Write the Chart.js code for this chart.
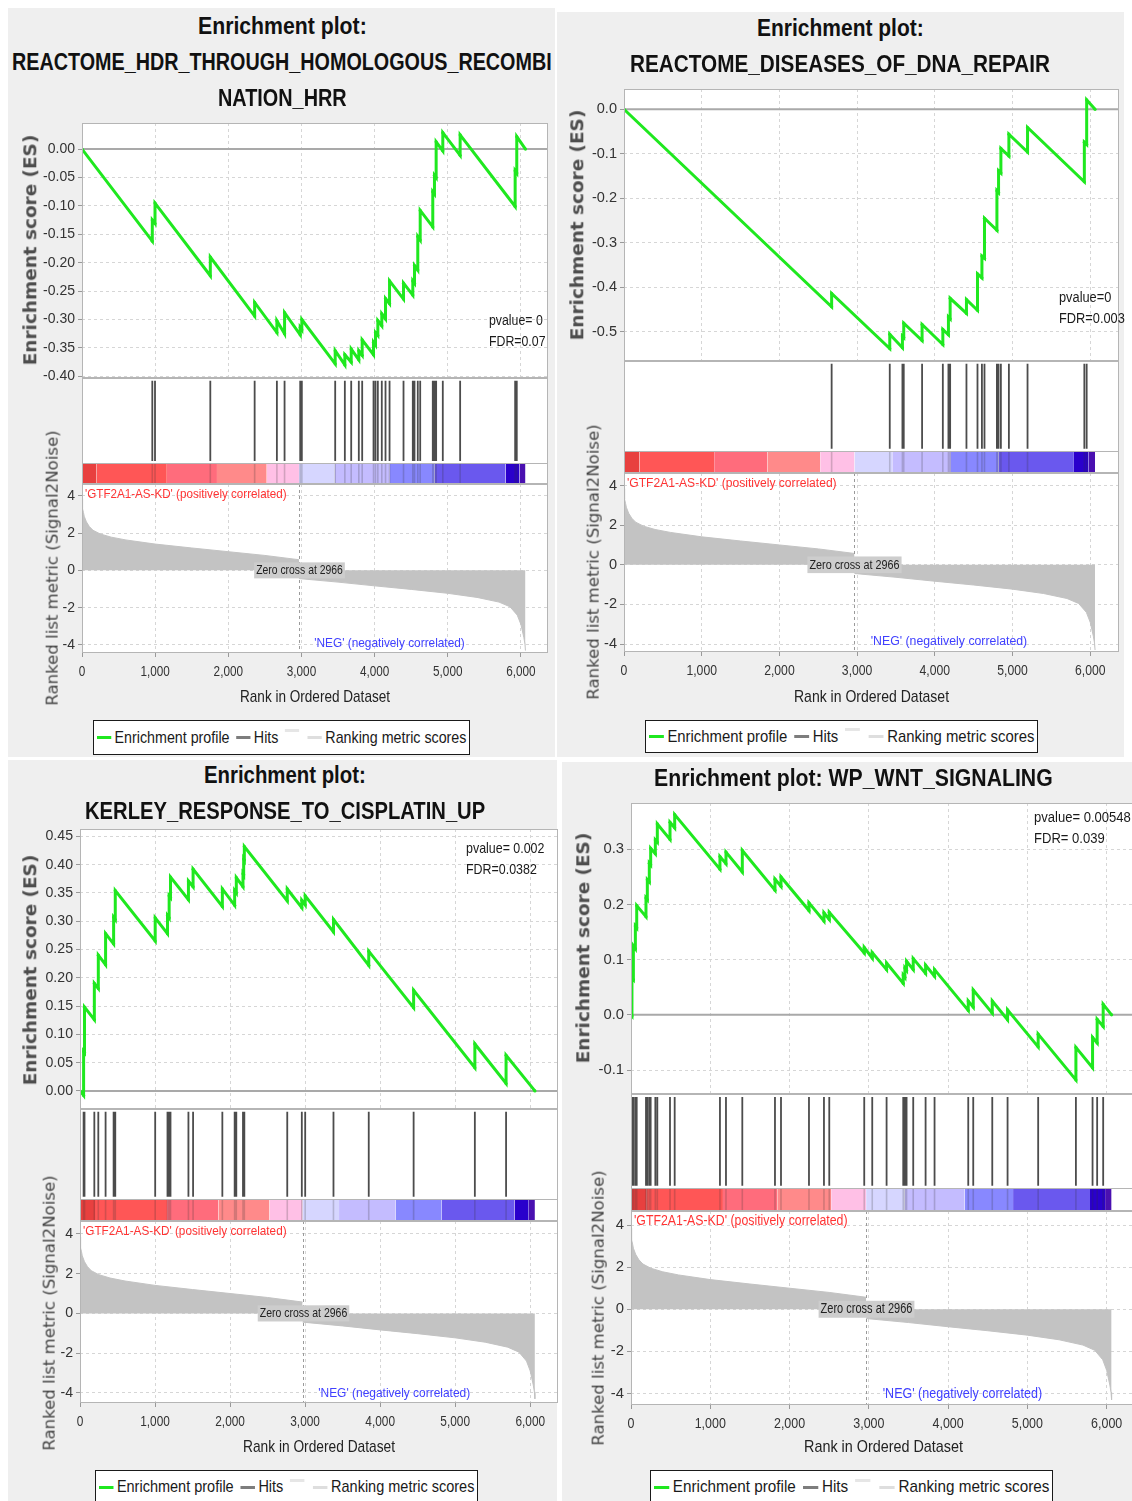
<!DOCTYPE html>
<html>
<head>
<meta charset="utf-8">
<script src="https://cdn.jsdelivr.net/npm/chart.js@4.4.1/dist/chart.umd.min.js"></script>
<style>
  html, body { margin: 0; padding: 0; background: #fff; overflow: hidden; }
  #page { position: relative; width: 1132px; height: 1501px; overflow: hidden; background: #fff; }
  .panel { position: absolute; background: #efefef; }
  .t { position: absolute; white-space: nowrap; line-height: 1.15; }
  canvas { position: absolute; }
  .legend { position: absolute; box-sizing: border-box; border: 1px solid #1a1a1a; background: #fff; overflow: hidden; }
  .legend .row { position: absolute; left: 3px; top: 50%; display: flex; align-items: center; white-space: nowrap; transform-origin: 0 50%; }
  .legend .sw { display: inline-block; width: 17px; height: 3px; margin-right: 4px; }
  .legend .gap { display: inline-block; width: 8px; }
</style>
</head>
<body>
<div id="page"></div>
<script>
// ---------- shared ranked list ----------
const listSize = 6062;
const zeroCross = 2966;
const rankTicks = [0, 1000, 2000, 3000, 4000, 5000, 6000];
const metricTicks = [4, 2, 0, -2, -4];

// ranked list metric (Signal2Noise), sampled along the ranking
const metricPosRanks = [0, 5, 10, 20, 30, 60, 100, 150, 250, 400, 600, 1000, 1500, 2000, 2500, 2966];
const metricPosValues = [3.85, 3.5, 3.3, 3.1, 2.9, 2.6, 2.35, 2.15, 1.95, 1.78, 1.63, 1.41, 1.2, 1.0, 0.8, 0.57];
const metricNegRanks = [2967, 3500, 4000, 4500, 5000, 5400, 5700, 5850, 5950, 6000, 6020, 6040, 6055, 6062];
const metricNegValues = [-0.44, -0.63, -0.83, -1.02, -1.23, -1.45, -1.7, -1.95, -2.4, -2.9, -3.25, -3.6, -3.95, -4.3];

// colour bar along the ranked list (segment edges and colours)
const heatEdges = [0, 200, 1160, 1845, 2525, 2966, 3452, 4208, 4820, 5790, 5980, 6062];
const heatColors = ['#e8403f', '#ff5656', '#ff6c7c', '#ff8a8a', '#ffc0e6', '#d6d6ff', '#c4bcff', '#8888ff', '#6a58ee', '#2a00cc', '#4a10b0'];

// ---------- REACTOME_HDR_THROUGH_HOMOLOGOUS_RECOMBINATION_HRR ----------
const hdrTicks = [0, -0.05, -0.10, -0.15, -0.20, -0.25, -0.30, -0.35, -0.40];
const hdrHits = [961, 998, 1754, 2360, 2664, 2769, 2983, 3005, 3461, 3593, 3680, 3784, 3830, 3985, 4012, 4044, 4098, 4149, 4204, 4395, 4522, 4545, 4590, 4623, 4795, 4818, 4841, 4932, 5169, 5921, 5943];
const hdrEsBefore = [-0.162, -0.131, -0.223, -0.294, -0.323, -0.325, -0.327, -0.318, -0.378, -0.380, -0.375, -0.371, -0.363, -0.362, -0.345, -0.328, -0.311, -0.299, -0.272, -0.264, -0.257, -0.236, -0.213, -0.160, -0.137, -0.079, -0.050, -0.003, -0.011, -0.101, -0.042];
const hdrEsAfter = [-0.125, -0.095, -0.190, -0.270, -0.302, -0.288, -0.314, -0.300, -0.355, -0.362, -0.352, -0.355, -0.336, -0.340, -0.323, -0.302, -0.290, -0.263, -0.232, -0.236, -0.232, -0.205, -0.154, -0.108, -0.075, -0.046, 0.013, 0.029, 0.025, -0.038, 0.022];

// ---------- REACTOME_DISEASES_OF_DNA_REPAIR ----------
const dnaTicks = [0, -0.1, -0.2, -0.3, -0.4, -0.5];
const dnaHits = [2672, 3420, 3583, 3600, 3836, 4103, 4175, 4197, 4407, 4549, 4606, 4639, 4799, 4820, 4850, 4953, 5193, 5924, 5954];
const dnaEsBefore = [-0.444, -0.538, -0.536, -0.513, -0.520, -0.529, -0.507, -0.471, -0.459, -0.452, -0.379, -0.335, -0.272, -0.187, -0.143, -0.105, -0.096, -0.163, -0.079];
const dnaEsAfter = [-0.414, -0.506, -0.510, -0.481, -0.484, -0.495, -0.467, -0.425, -0.428, -0.370, -0.330, -0.245, -0.183, -0.138, -0.088, -0.056, -0.041, -0.074, 0.021];

// ---------- KERLEY_RESPONSE_TO_CISPLATIN_UP ----------
const kerleyTicks = [0.45, 0.40, 0.35, 0.30, 0.25, 0.20, 0.15, 0.10, 0.05, 0.00];
const kerleyHits = [48, 60, 191, 244, 341, 448, 470, 1002, 1166, 1188, 1206, 1445, 1507, 1897, 2061, 2083, 2172, 2181, 2190, 2762, 2956, 3001, 3378, 3848, 4446, 5262, 5678];
const kerleyEsBefore = [-0.008, 0.068, 0.126, 0.181, 0.223, 0.260, 0.303, 0.265, 0.278, 0.306, 0.342, 0.338, 0.361, 0.326, 0.328, 0.350, 0.361, 0.382, 0.408, 0.336, 0.324, 0.329, 0.281, 0.222, 0.147, 0.041, 0.013];
const kerleyEsAfter = [0.070, 0.148, 0.190, 0.240, 0.278, 0.307, 0.354, 0.306, 0.310, 0.345, 0.378, 0.371, 0.392, 0.357, 0.354, 0.377, 0.384, 0.410, 0.432, 0.357, 0.337, 0.345, 0.303, 0.247, 0.178, 0.083, 0.063];

// ---------- WP_WNT_SIGNALING ----------
const wntTicks = [0.3, 0.2, 0.1, 0.0, -0.1];
const wntHits = [12, 30, 55, 72, 189, 206, 231, 248, 307, 332, 492, 551, 1122, 1198, 1404, 1816, 1892, 2245, 2434, 2501, 2942, 3043, 3224, 3434, 3455, 3476, 3560, 3716, 3829, 4254, 4317, 4557, 4750, 5136, 5612, 5822, 5880, 5956];
const wntEsBefore = [-0.002, 0.064, 0.120, 0.158, 0.178, 0.209, 0.241, 0.272, 0.292, 0.313, 0.318, 0.339, 0.264, 0.274, 0.259, 0.226, 0.233, 0.189, 0.170, 0.173, 0.112, 0.103, 0.082, 0.057, 0.068, 0.081, 0.082, 0.075, 0.070, 0.008, 0.014, 0.003, -0.009, -0.058, -0.118, -0.096, -0.051, -0.021];
const wntEsAfter = [0.067, 0.125, 0.161, 0.198, 0.212, 0.245, 0.275, 0.302, 0.317, 0.346, 0.349, 0.363, 0.287, 0.295, 0.298, 0.246, 0.250, 0.203, 0.185, 0.186, 0.122, 0.113, 0.094, 0.072, 0.085, 0.097, 0.102, 0.090, 0.082, 0.025, 0.045, 0.025, 0.009, -0.035, -0.059, -0.041, -0.008, 0.019];

// ---------- drawing ----------
const XMAX = 6370;
const GREEN = '#1fe81f';
const GRID = '#d6d6d6';
const NARROW = "'Liberation Sans Narrow','Arial Narrow','Liberation Sans',Arial,sans-serif";
const WIDE = "'DejaVu Sans',Verdana,sans-serif";
const page = document.getElementById('page');

Chart.defaults.font.family = NARROW;
Chart.defaults.color = '#333';

// text squeezed horizontally (the plots use a tall, condensed face)
function narrowText(ctx, text, x, y, sx, align) {
  ctx.save();
  ctx.translate(x, y);
  ctx.scale(sx, 1);
  ctx.textAlign = align;
  ctx.fillText(text, 0, 0);
  ctx.restore();
}

// white plot background and grey frame around every plot area
Chart.register({
  id: 'frame',
  beforeDraw(chart) {
    const a = chart.chartArea, ctx = chart.ctx;
    ctx.save(); ctx.fillStyle = '#fff';
    ctx.fillRect(a.left, a.top, a.width, a.height); ctx.restore();
  },
  afterDraw(chart, args, o) {
    const a = chart.chartArea, ctx = chart.ctx;
    ctx.save();
    ctx.strokeStyle = '#b5b5b5'; ctx.lineWidth = 1;
    ctx.strokeRect(Math.round(a.left) + 0.5, Math.round(a.top) + 0.5, Math.round(a.width) - 1, Math.round(a.height) - 1);
    (o.hlines || []).forEach(v => {
      const y = Math.round(chart.scales.y.getPixelForValue(v)) + 0.5;
      ctx.beginPath(); ctx.moveTo(a.left, y); ctx.lineTo(a.right, y); ctx.stroke();
    });
    ctx.restore();
  }
});

function addCanvas(x, y, w, h) {
  const c = document.createElement('canvas');
  c.width = w; c.height = h;
  c.style.left = x + 'px'; c.style.top = y + 'px';
  c.style.width = w + 'px'; c.style.height = h + 'px';
  page.appendChild(c);
  return c;
}

function addText(txt, font, color) {
  const d = document.createElement('div');
  d.className = 't';
  d.textContent = txt;
  d.style.font = font;
  d.style.color = color;
  page.appendChild(d);
  return d;
}

// horizontal text; either fitted to a width or squeezed by a factor
function hText(txt, x, cy, width, font, color, centered, squeeze) {
  const d = addText(txt, font, color);
  const w = d.offsetWidth, h = d.offsetHeight;
  const k = width ? width / w : (squeeze || 1);
  const tw = w * k;
  d.style.left = (centered ? x - tw / 2 : x) + 'px';
  d.style.top = (cy - h / 2) + 'px';
  d.style.transformOrigin = '0 50%';
  d.style.transform = 'scaleX(' + k + ')';
  return d;
}

// vertical (rotated) axis title, centred at (cx, cy) with a given length
function vText(txt, cx, cy, len, font, color) {
  const d = addText(txt, font, color);
  const w = d.offsetWidth, h = d.offsetHeight;
  d.style.left = (cx - w / 2) + 'px';
  d.style.top = (cy - h / 2) + 'px';
  d.style.transformOrigin = '50% 50%';
  d.style.transform = 'rotate(-90deg) scaleX(' + (len / w) + ')';
  return d;
}

function esPoints(hits, before, after) {
  const pts = [{ x: 0, y: 0 }];
  hits.forEach((h, i) => {
    pts.push({ x: h, y: before[i] });
    pts.push({ x: h, y: after[i] });
  });
  pts.push({ x: listSize, y: 0 });
  return pts;
}

const baseOpts = {
  responsive: false,
  animation: false,
  devicePixelRatio: 1,
  events: [],
  plugins: { legend: { display: false }, tooltip: { enabled: false } }
};

function xScale(tickMarks, height) {
  return {
    type: 'linear', min: 0, max: XMAX,
    afterBuildTicks: s => { s.ticks = rankTicks.map(v => ({ value: v })); },
    ticks: { display: false },
    grid: { color: GRID, drawTicks: tickMarks, tickLength: 4, tickColor: '#999' },
    border: { display: false, dash: [3, 3] },
    afterFit: s => { s.height = height; }
  };
}

function yScale(min, max, ticks, fmt, fs, width) {
  return {
    type: 'linear', min, max,
    afterBuildTicks: s => { s.ticks = ticks.map(v => ({ value: v })); },
    ticks: { callback: fmt, font: { size: 14 * fs }, color: '#333', padding: 3 },
    grid: { color: GRID, drawTicks: true, tickLength: 4, tickColor: '#999' },
    border: { display: false, dash: [3, 3] },
    afterFit: s => { s.width = width; }
  };
}

function esChart(p) {
  const AX = 70, PT = 14, PR = 14, PB = 14;
  const c = addCanvas(p.left - AX, p.esTop - PT, AX + (p.right - p.left) + PR, PT + (p.esBot - p.esTop) + PB);
  new Chart(c, {
    type: 'line',
    data: {
      datasets: [
        { data: esPoints(p.hits, p.before, p.after), borderColor: GREEN, borderWidth: 3, pointRadius: 1.6,
          pointBackgroundColor: GREEN, pointBorderWidth: 0, tension: 0, order: 1 },
        { data: [{ x: 0, y: 0 }, { x: XMAX, y: 0 }], borderColor: '#a9a9a9', borderWidth: 2, pointRadius: 0, order: 2 }
      ]
    },
    options: Object.assign({}, baseOpts, {
      layout: { padding: { left: 0, top: PT, right: PR, bottom: PB } },
      scales: {
        x: xScale(false, 0),
        y: yScale(p.esMin, p.esMax, p.esTicks, v => v.toFixed(p.esDigits), p.fs, AX)
      }
    })
  });
}

function bandChart(p) {
  const w = p.right - p.left, h = p.bandBot - p.bandTop;
  const hf = (p.bandBot - p.heatTop) / h;
  const c = addCanvas(p.left, p.bandTop, w, h);
  const datasets = [];
  heatColors.forEach((col, i) => {
    datasets.push({
      data: [{ x: heatEdges[i], y: hf }, { x: heatEdges[i + 1], y: hf }],
      fill: 'origin', backgroundColor: col, borderColor: col, borderWidth: 0, pointRadius: 0, order: 5
    });
  });
  const strong = [], faint = [];
  p.hits.forEach(r => {
    strong.push({ x: r, y: hf + 0.02 }, { x: r, y: 0.975 }, { x: r, y: null });
    faint.push({ x: r, y: 0 }, { x: r, y: hf }, { x: r, y: null });
  });
  datasets.push({ data: faint, borderColor: 'rgba(50,50,50,0.22)', borderWidth: 1.6, pointRadius: 0, spanGaps: false, order: 1 });
  datasets.push({ data: strong, borderColor: 'rgba(25,25,25,0.78)', borderWidth: 1.8, pointRadius: 0, spanGaps: false, order: 0 });
  new Chart(c, {
    type: 'line',
    data: { datasets },
    options: Object.assign({}, baseOpts, {
      layout: { padding: 0 },
      plugins: { legend: { display: false }, tooltip: { enabled: false }, frame: { hlines: [hf] } },
      scales: {
        x: { type: 'linear', min: 0, max: XMAX, display: false },
        y: { type: 'linear', min: 0, max: 1, display: false }
      }
    })
  });
}

function metricChart(p) {
  const AX = 70, PT = 14, PR = 14, XH = 34;
  const c = addCanvas(p.left - AX, p.metTop - PT, AX + (p.right - p.left) + PR, PT + (p.metBot - p.metTop) + XH);
  const pos = metricPosRanks.map((r, i) => ({ x: r, y: metricPosValues[i] }));
  const neg = metricNegRanks.map((r, i) => ({ x: r, y: metricNegValues[i] }));
  const notes = {
    id: 'metricNotes',
    afterDatasetsDraw(chart) {
      const { ctx, chartArea: a, scales: { x, y } } = chart;
      const fs = p.fs;
      ctx.save();
      // zero crossing marker
      const zx = Math.round(x.getPixelForValue(zeroCross)) + 0.5;
      ctx.setLineDash([3, 3]); ctx.strokeStyle = '#9a9a9a'; ctx.lineWidth = 1;
      ctx.beginPath(); ctx.moveTo(zx, a.top); ctx.lineTo(zx, a.bottom); ctx.stroke();
      ctx.setLineDash([]);
      ctx.font = (13 * fs) + 'px ' + NARROW;
      ctx.textBaseline = 'middle';
      const zt = 'Zero cross at ' + zeroCross;
      const zw = ctx.measureText(zt).width * 0.8;
      const zy = y.getPixelForValue(0);
      ctx.fillStyle = '#cdcdcd';
      ctx.fillRect(zx - zw / 2 - 2, zy - 8 * fs, zw + 4, 16 * fs);
      ctx.fillStyle = '#222';
      narrowText(ctx, zt, zx, zy, 0.8, 'center');
      // phenotype labels
      ctx.font = (13 * fs) + 'px ' + NARROW;
      ctx.fillStyle = '#ff3333';
      narrowText(ctx, "'GTF2A1-AS-KD' (positively correlated)", a.left + 3, a.top + 10 * fs, 0.895, 'left');
      ctx.fillStyle = '#4040ff';
      narrowText(ctx, "'NEG' (negatively correlated)", x.getPixelForValue(3175), a.bottom - 10 * fs, 0.91, 'left');
      ctx.restore();
    },
    afterDraw(chart) {
      // rank tick labels under the axis
      const { ctx, chartArea: a, scales: { x } } = chart;
      ctx.save();
      ctx.font = (14 * p.fs) + 'px ' + NARROW;
      ctx.fillStyle = '#333';
      ctx.textBaseline = 'middle';
      rankTicks.forEach(v => narrowText(ctx, v.toLocaleString('en-US'), x.getPixelForValue(v), a.bottom + 19, 0.84, 'center'));
      ctx.restore();
    }
  };
  new Chart(c, {
    type: 'line',
    data: {
      datasets: [
        { data: pos, fill: 'origin', backgroundColor: '#c3c3c3', borderColor: '#c3c3c3', borderWidth: 1, pointRadius: 0, tension: 0 },
        { data: neg, fill: 'origin', backgroundColor: '#c3c3c3', borderColor: '#c3c3c3', borderWidth: 1, pointRadius: 0, tension: 0 }
      ]
    },
    options: Object.assign({}, baseOpts, {
      layout: { padding: { left: 0, top: PT, right: PR, bottom: 0 } },
      scales: {
        x: xScale(true, XH),
        y: yScale(p.metMin, p.metMax, metricTicks, v => String(v), p.fs, AX)
      }
    }),
    plugins: [notes]
  });
}

function legend(p) {
  const [x, y, w, h] = p.legend;
  const box = document.createElement('div');
  box.className = 'legend';
  box.style.left = x + 'px'; box.style.top = y + 'px';
  box.style.width = w + 'px'; box.style.height = h + 'px';
  const row = document.createElement('div');
  row.className = 'row';
  row.style.font = '17px ' + NARROW;
  row.style.color = '#1a1a1a';
  row.innerHTML =
    '<span class="sw" style="background:' + GREEN + '"></span><span>Enrichment profile</span><span class="gap"></span>' +
    '<span class="sw" style="background:#7d7d7d"></span><span>Hits</span><span class="gap"></span>' +
    '<span class="sw" style="background:#e6e6e6;position:relative;top:-7px;margin-right:10px"></span>' +
    '<span class="sw" style="background:#dedede"></span><span>Ranking metric scores</span>';
  box.appendChild(row);
  page.appendChild(box);
  const rw = row.offsetWidth, rh = row.offsetHeight;
  row.style.top = ((p.legendMid || h / 2) - rh / 2 - 1) + 'px';
  row.style.transform = 'scaleX(' + ((w - 8) / rw) + ')';
}

function buildPanel(p) {
  const bg = document.createElement('div');
  bg.className = 'panel';
  bg.style.left = p.bg[0] + 'px'; bg.style.top = p.bg[1] + 'px';
  bg.style.width = p.bg[2] + 'px'; bg.style.height = p.bg[3] + 'px';
  page.appendChild(bg);

  bandChart(p);
  metricChart(p);
  esChart(p);

  p.titles.forEach((t, i) => hText(t, p.titleX, p.titleY[i], p.titleW[i], 'bold 24px ' + NARROW, '#111', true));
  vText('Enrichment score (ES)', p.esTitle[0], p.esTitle[1], 231, 'bold 17px ' + WIDE, '#4d4d4d');
  vText('Ranked list metric (Signal2Noise)', p.metTitle[0], p.metTitle[1], 275, '15px ' + WIDE, '#444');
  hText('Rank in Ordered Dataset', (p.left + p.right) / 2, p.xTitleY, p.xTitleW, '17px ' + NARROW, '#222', true);
  hText(p.stats[0], p.statX, p.statY, 0, (14 * p.fs) + 'px ' + NARROW, '#1a1a1a', false, 0.88);
  hText(p.stats[1], p.statX, p.statY + 21, 0, (14 * p.fs) + 'px ' + NARROW, '#1a1a1a', false, 0.88);
  legend(p);
}

const panels = [
  {
    hits: hdrHits, before: hdrEsBefore, after: hdrEsAfter, esTicks: hdrTicks, esDigits: 2,
    bg: [8, 8, 547, 749], titleX: 282, titleY: [26, 62, 98], titleW: [169, 540, 129],
    titles: ['Enrichment plot:', 'REACTOME_HDR_THROUGH_HOMOLOGOUS_RECOMBI', 'NATION_HRR'],
    left: 82, right: 548, esTop: 123, esBot: 378, esMin: -0.403, esMax: 0.046,
    bandTop: 378, heatTop: 463, bandBot: 484, metTop: 484, metBot: 653, metMin: -4.43, metMax: 4.63,
    esTitle: [30, 250], metTitle: [52, 568], xTitleY: 697, xTitleW: 150,
    stats: ['pvalue= 0', 'FDR=0.07'], statX: 489, statY: 320, legend: [93, 720, 377, 35], fs: 1
  },
  {
    hits: dnaHits, before: dnaEsBefore, after: dnaEsAfter, esTicks: dnaTicks, esDigits: 1,
    bg: [557, 12, 567, 745], titleX: 840, titleY: [28, 64], titleW: [167, 420],
    titles: ['Enrichment plot:', 'REACTOME_DISEASES_OF_DNA_REPAIR'],
    left: 624, right: 1119, esTop: 89, esBot: 361, esMin: -0.566, esMax: 0.0456,
    bandTop: 361, heatTop: 451, bandBot: 473, metTop: 473, metBot: 652, metMin: -4.40, metMax: 4.63,
    esTitle: [577, 225], metTitle: [593, 562], xTitleY: 697, xTitleW: 155,
    stats: ['pvalue=0', 'FDR=0.003'], statX: 1059, statY: 297, legend: [645, 720, 393, 33], fs: 1.04
  },
  {
    hits: kerleyHits, before: kerleyEsBefore, after: kerleyEsAfter, esTicks: kerleyTicks, esDigits: 2,
    bg: [8, 760, 549, 741], titleX: 285, titleY: [775, 811], titleW: [162, 400],
    titles: ['Enrichment plot:', 'KERLEY_RESPONSE_TO_CISPLATIN_UP'],
    left: 80, right: 558, esTop: 829, esBot: 1109, esMin: -0.032, esMax: 0.463,
    bandTop: 1109, heatTop: 1199, bandBot: 1221, metTop: 1221, metBot: 1403, metMin: -4.51, metMax: 4.65,
    esTitle: [30, 970], metTitle: [49, 1313], xTitleY: 1447, xTitleW: 152,
    stats: ['pvalue= 0.002', 'FDR=0.0382'], statX: 466, statY: 848, legend: [95, 1470, 383, 34], fs: 1.01
  },
  {
    hits: wntHits, before: wntEsBefore, after: wntEsAfter, esTicks: wntTicks, esDigits: 1,
    bg: [562, 762, 570, 739], titleX: 853, titleY: [778], titleW: [399],
    titles: ['Enrichment plot: WP_WNT_SIGNALING'],
    left: 631, right: 1136, esTop: 803, esBot: 1094, esMin: -0.1435, esMax: 0.384,
    bandTop: 1094, heatTop: 1188, bandBot: 1211, metTop: 1211, metBot: 1405, metMin: -4.55, metMax: 4.67,
    esTitle: [583, 948], metTitle: [598, 1308], xTitleY: 1447, xTitleW: 159,
    stats: ['pvalue= 0.00548', 'FDR= 0.039'], statX: 1034, statY: 817, legend: [650, 1470, 403, 34], fs: 1.06
  }
];

panels.forEach(buildPanel);
</script>
</body>
</html>
